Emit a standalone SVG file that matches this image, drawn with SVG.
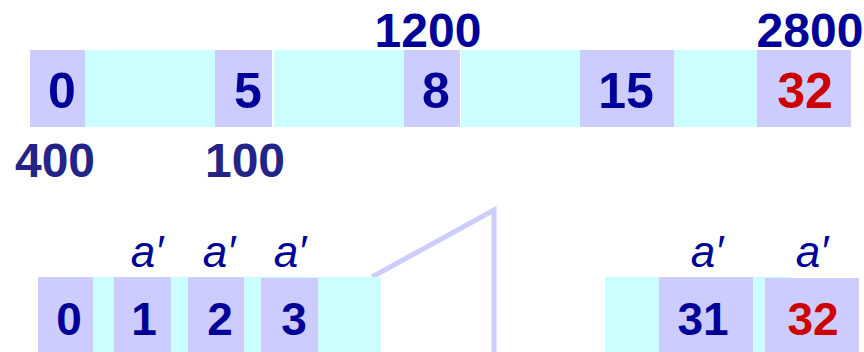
<svg xmlns="http://www.w3.org/2000/svg" width="864" height="352" viewBox="0 0 864 352">
<style>
.p{fill:#CCCCFF}
.c{fill:#CCFFFF}
.t{font-family:"Liberation Sans",Arial,sans-serif;font-weight:bold;text-anchor:middle;fill:#000099}
.big{font-size:50px}
.lbl{font-size:48px}
.sm{font-size:46px}
.red{fill:#CC0000}
.dk{fill:#232388}
.a{font-family:"Liberation Sans",Arial,sans-serif;font-style:italic;font-size:44px;text-anchor:middle;fill:#000099}
</style>
<rect width="864" height="352" fill="#FFFFFF"/>
<g id="top-row">
  <rect class="c" x="85" y="50" width="130" height="77"/>
  <rect class="c" x="274" y="50" width="130" height="77"/>
  <rect class="c" x="461" y="50" width="119" height="77"/>
  <rect class="c" x="674" y="50" width="83" height="77"/>
  <g id="t0"><rect class="p" x="30" y="50" width="55" height="77"/><text class="t big" x="62" y="108">0</text></g>
  <g id="t5"><rect class="p" x="215" y="50" width="57" height="77"/><text class="t big" x="248" y="108">5</text></g>
  <g id="t8"><rect class="p" x="404" y="50" width="56" height="77"/><text class="t big" x="436" y="108">8</text></g>
  <g id="t15"><rect class="p" x="580" y="50" width="94" height="77"/><text class="t big" x="626" y="108">15</text></g>
  <g id="t32"><rect class="p" x="757" y="50" width="94" height="77"/><text class="t big red" x="805" y="108">32</text></g>
</g>
<g id="top-labels">
  <text class="t lbl" x="428" y="47">1200</text>
  <text class="t lbl" x="810" y="47">2800</text>
  <text class="t lbl dk" x="55" y="177">400</text>
  <text class="t lbl dk" x="245" y="177">100</text>
</g>
<g id="connectors">
  <polyline points="372,277 494,210 494,352" fill="none" stroke="#CCCCFF" stroke-width="5"/>
</g>
<g id="bottom-left">
  <rect class="c" x="93" y="277" width="288" height="75"/>
  <g id="b0"><rect class="p" x="38" y="277" width="55" height="75"/><text class="t sm" x="69" y="335">0</text></g>
  <g id="b1"><rect class="p" x="114" y="277" width="57" height="75"/><text class="t sm" x="144" y="335">1</text><text class="a" x="147" y="267">a′</text></g>
  <g id="b2"><rect class="p" x="188" y="277" width="56" height="75"/><text class="t sm" x="220" y="335">2</text><text class="a" x="219" y="267">a′</text></g>
  <g id="b3"><rect class="p" x="261" y="278" width="57" height="74"/><text class="t sm" x="294" y="335">3</text><text class="a" x="290" y="267">a′</text></g>
</g>
<g id="bottom-right">
  <rect class="c" x="605" y="277" width="186" height="75"/>
  <g id="b31"><rect class="p" x="659" y="277" width="94" height="75"/><text class="t sm" x="703" y="335">31</text><text class="a" x="707" y="267">a′</text></g>
  <g id="b32"><rect class="p" x="765" y="278" width="94" height="74"/><text class="t sm red" x="813" y="335">32</text><text class="a" x="812" y="267">a′</text></g>
</g>
</svg>
